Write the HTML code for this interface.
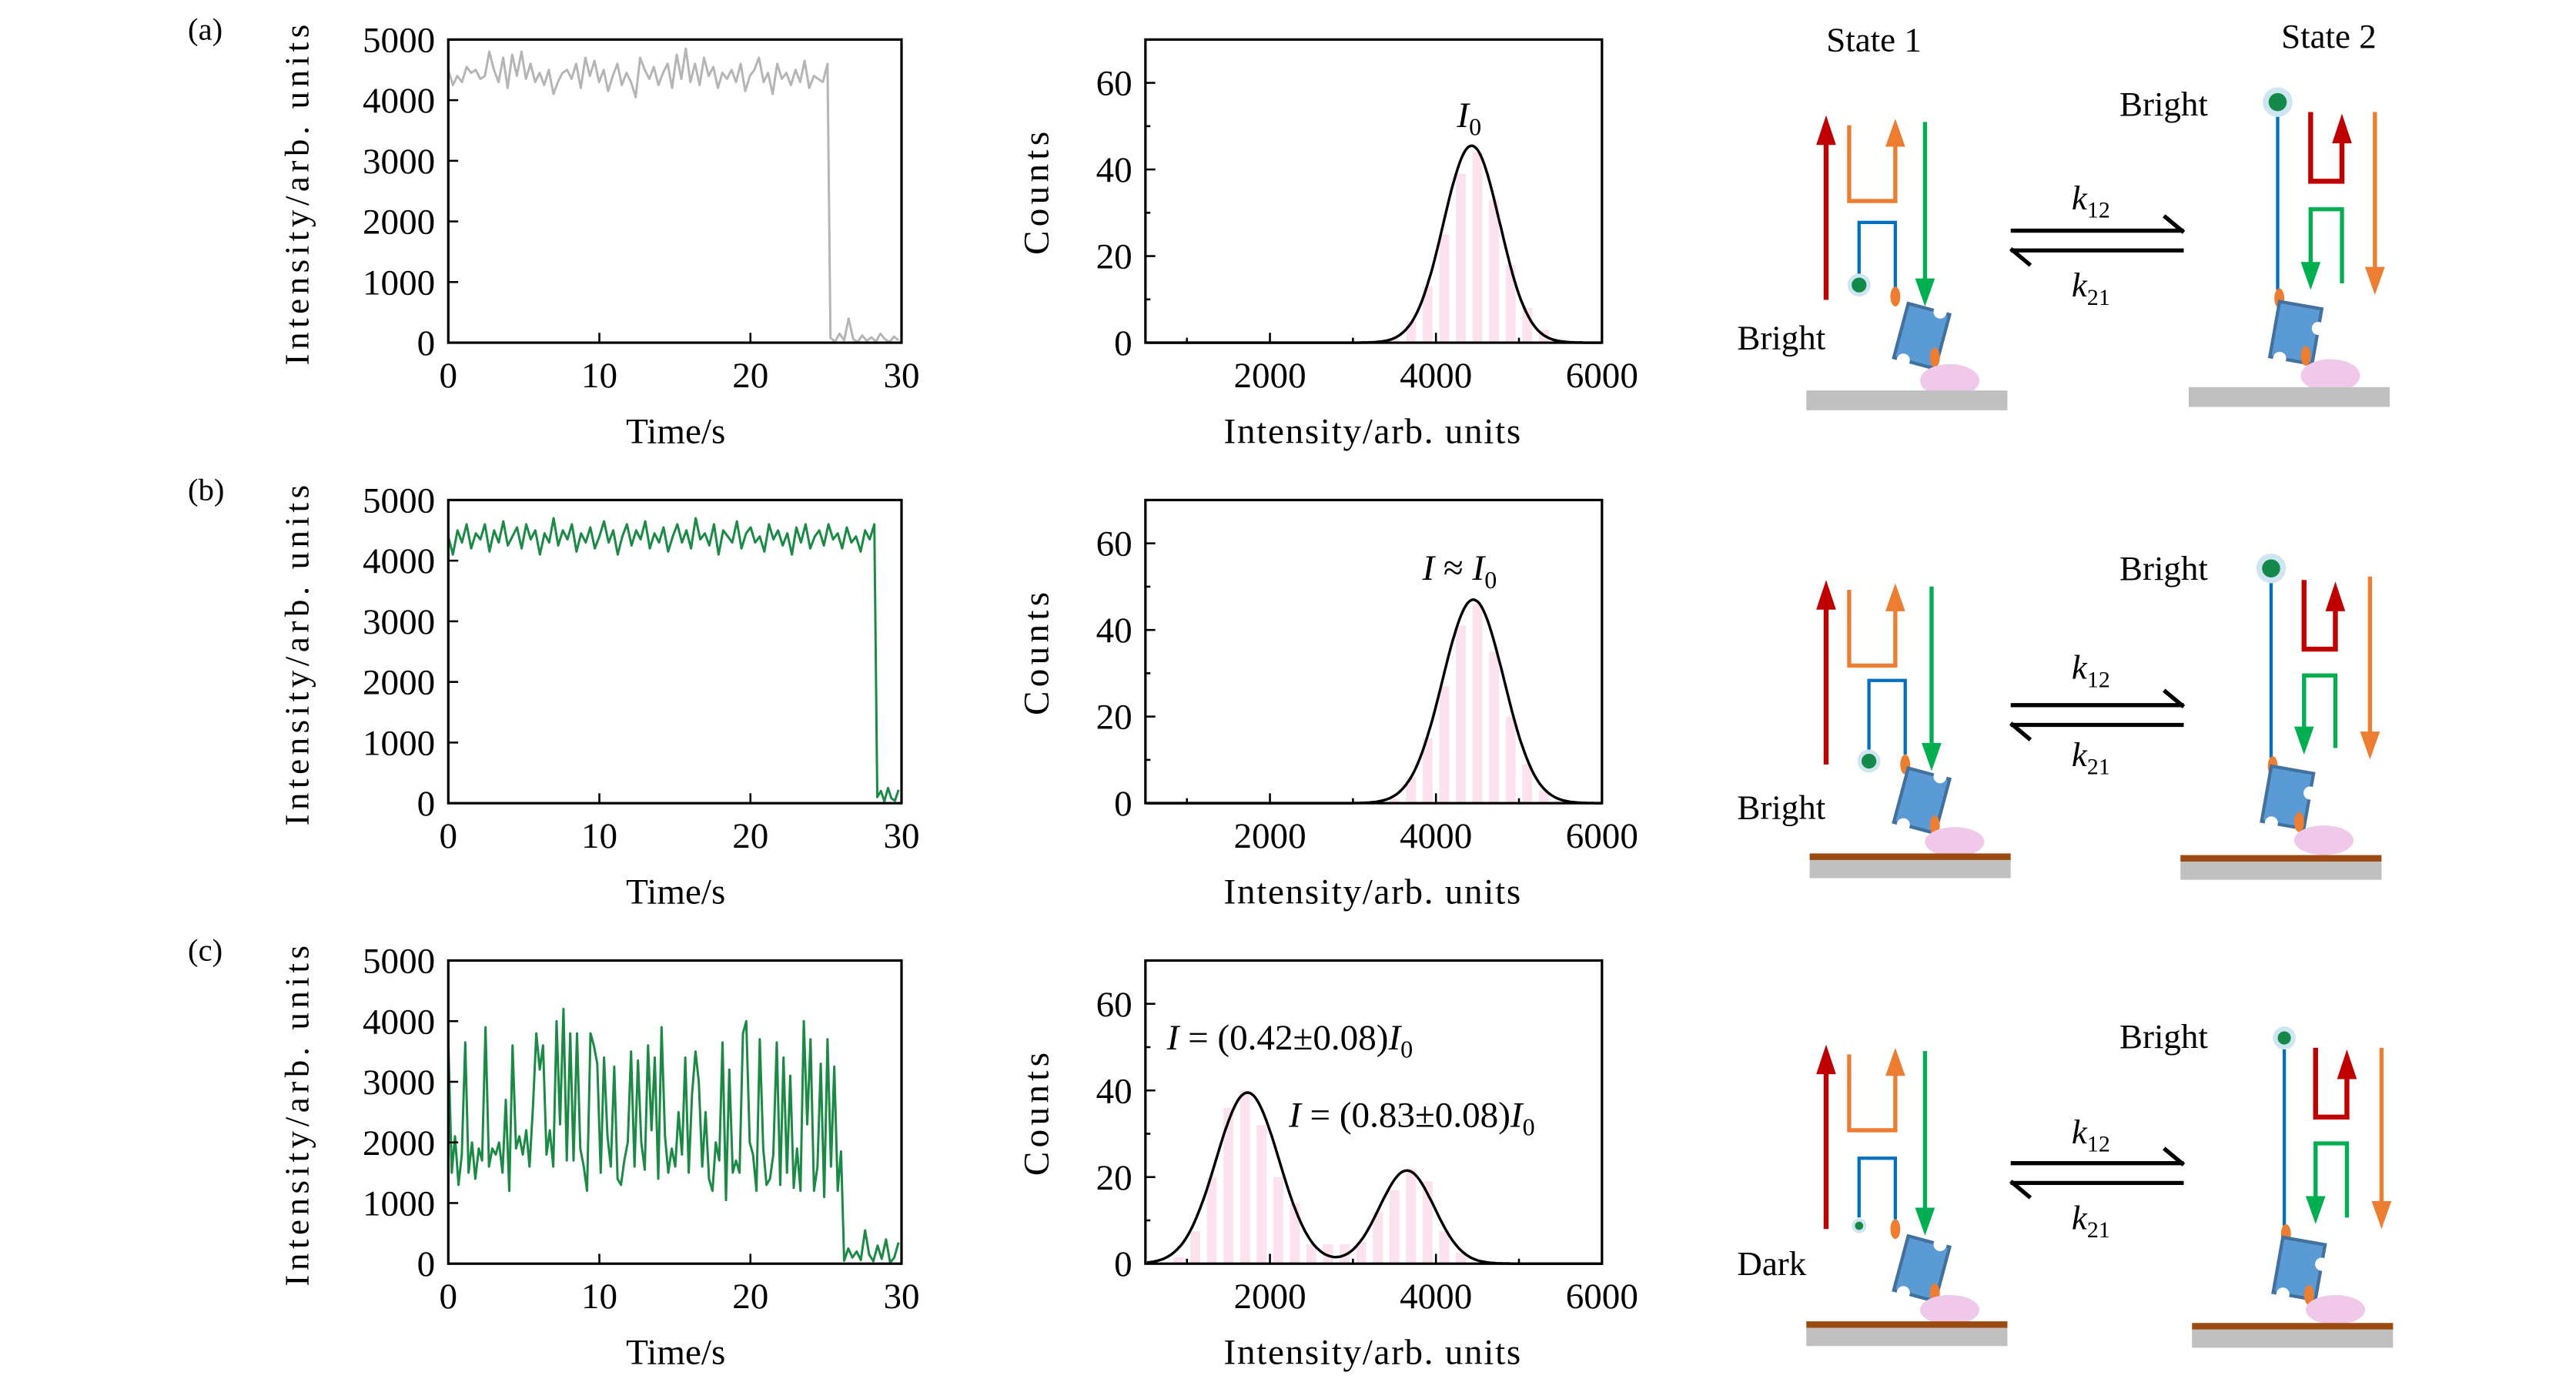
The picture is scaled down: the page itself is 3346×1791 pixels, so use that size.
<!DOCTYPE html>
<html><head><meta charset="utf-8"><style>
html,body{margin:0;padding:0;background:#fff;}
svg{display:block;font-family:"Liberation Serif",serif;}
</style></head><body>
<svg id="fig" width="3346" height="1791" viewBox="0 0 1563 837" preserveAspectRatio="none" xmlns="http://www.w3.org/2000/svg">
<g id="plots"></g>
<!-- schematic row a -->
<g transform="translate(0,0)">
<text x="1137" y="31" font-size="21" text-anchor="middle">State 1</text>
<text x="1413" y="29" font-size="21" text-anchor="middle">State 2</text>
<g>
<line x1="1108" y1="182" x2="1108" y2="86" stroke="#c00000" stroke-width="3"/><polygon points="1102,88 1114,88 1108,70" fill="#c00000"/>
<polyline points="1122,76 1122,122 1150,122 1150,88" fill="none" stroke="#ed7d31" stroke-width="2.5"/><polygon points="1144,89 1156,89 1150,72" fill="#ed7d31"/>
<line x1="1168" y1="74" x2="1168" y2="171" stroke="#00b050" stroke-width="2.5"/><polygon points="1162,169 1174,169 1168,186" fill="#00b050"/>
<polyline points="1128,167 1128,135 1150,135 1150,176" fill="none" stroke="#0070c0" stroke-width="2"/>
<circle cx="1128" cy="173" r="7" fill="#cfe6f2"/><circle cx="1128" cy="173" r="4.5" fill="#138a4a"/>
<ellipse cx="1150" cy="180" rx="3" ry="6" fill="#ed7d31"/>
<g transform="translate(1166,204) rotate(15)"><rect x="-13" y="-17" width="26" height="34" fill="#5b9bd5" stroke="#41719c" stroke-width="2"/><circle cx="7" cy="-17" r="4" fill="#fff"/><circle cx="-7" cy="17" r="4" fill="#fff"/></g>
<ellipse cx="1174" cy="217" rx="3" ry="6" fill="#ed7d31"/>
<ellipse cx="1183" cy="231" rx="18" ry="10" fill="#f0c8ea"/>
<rect x="1096" y="237" width="122" height="12" fill="#c0c0c0"/>
<text x="1054" y="212" font-size="21">Bright</text>
</g>
<g>
<line x1="1220" y1="140" x2="1325" y2="140" stroke="#000" stroke-width="2.5"/><line x1="1313" y1="131" x2="1325" y2="141" stroke="#000" stroke-width="2.5"/>
<line x1="1220" y1="152" x2="1325" y2="152" stroke="#000" stroke-width="2.5"/><line x1="1220" y1="151" x2="1232" y2="161" stroke="#000" stroke-width="2.5"/>
<text x="1257" y="127" font-size="21" font-style="italic">k<tspan font-size="14" font-style="normal" dy="5">12</tspan></text>
<text x="1257" y="180" font-size="21" font-style="italic">k<tspan font-size="14" font-style="normal" dy="5">21</tspan></text>
</g>
<g>
<text x="1286" y="70" font-size="21">Bright</text>
<line x1="1382" y1="68" x2="1382" y2="176" stroke="#0070c0" stroke-width="2"/>
<circle cx="1382" cy="62" r="9" fill="#cfe6f2"/><circle cx="1382" cy="62" r="5.5" fill="#138a4a"/>
<polyline points="1402,68 1402,110 1421,110 1421,86" fill="none" stroke="#c00000" stroke-width="3"/><polygon points="1415,87 1427,87 1421,69" fill="#c00000"/>
<polyline points="1421,172 1421,127 1402,127 1402,161" fill="none" stroke="#00b050" stroke-width="2.5"/><polygon points="1396,159 1408,159 1402,176" fill="#00b050"/>
<line x1="1441" y1="68" x2="1441" y2="164" stroke="#ed7d31" stroke-width="2.5"/><polygon points="1435,162 1447,162 1441,179" fill="#ed7d31"/>
<ellipse cx="1383" cy="181" rx="3" ry="6" fill="#ed7d31"/>
<g transform="translate(1393,202) rotate(10)"><rect x="-13" y="-17" width="26" height="34" fill="#5b9bd5" stroke="#41719c" stroke-width="2"/><circle cx="13" cy="-5" r="4" fill="#fff"/><circle cx="-7" cy="17" r="4" fill="#fff"/></g>
<ellipse cx="1399" cy="216" rx="3" ry="6" fill="#ed7d31"/>
<ellipse cx="1414" cy="228" rx="18" ry="10" fill="#f0c8ea"/>
<rect x="1328" y="235" width="122" height="12" fill="#c0c0c0"/>
</g>
</g>
<!-- schematic row b -->
<g transform="translate(0,282)">
<g>
<line x1="1108" y1="182" x2="1108" y2="86" stroke="#c00000" stroke-width="3"/><polygon points="1102,88 1114,88 1108,70" fill="#c00000"/>
<polyline points="1122,76 1122,122 1150,122 1150,88" fill="none" stroke="#ed7d31" stroke-width="2.5"/><polygon points="1144,89 1156,89 1150,72" fill="#ed7d31"/>
<line x1="1172" y1="74" x2="1172" y2="171" stroke="#00b050" stroke-width="2.5"/><polygon points="1166,169 1178,169 1172,186" fill="#00b050"/>
<polyline points="1134,173 1134,131 1156,131 1156,176" fill="none" stroke="#0070c0" stroke-width="2"/>
<circle cx="1134" cy="180" r="7" fill="#cfe6f2"/><circle cx="1134" cy="180" r="4.5" fill="#138a4a"/>
<ellipse cx="1156" cy="182" rx="3" ry="6" fill="#ed7d31"/>
<g transform="translate(1166,204) rotate(15)"><rect x="-13" y="-17" width="26" height="34" fill="#5b9bd5" stroke="#41719c" stroke-width="2"/><circle cx="7" cy="-17" r="4" fill="#fff"/><circle cx="-7" cy="17" r="4" fill="#fff"/></g>
<ellipse cx="1174" cy="219" rx="3" ry="6" fill="#ed7d31"/>
<ellipse cx="1186" cy="229" rx="18" ry="9" fill="#f0c8ea"/>
<rect x="1098" y="236" width="122" height="4" fill="#9c4a12"/>
<rect x="1098" y="240" width="122" height="11" fill="#c0c0c0"/>
<text x="1054" y="215" font-size="21">Bright</text>
</g>
<g>
<line x1="1220" y1="146" x2="1325" y2="146" stroke="#000" stroke-width="2.5"/><line x1="1313" y1="137" x2="1325" y2="147" stroke="#000" stroke-width="2.5"/>
<line x1="1220" y1="158" x2="1325" y2="158" stroke="#000" stroke-width="2.5"/><line x1="1220" y1="157" x2="1232" y2="167" stroke="#000" stroke-width="2.5"/>
<text x="1257" y="130" font-size="21" font-style="italic">k<tspan font-size="14" font-style="normal" dy="5">12</tspan></text>
<text x="1257" y="183" font-size="21" font-style="italic">k<tspan font-size="14" font-style="normal" dy="5">21</tspan></text>
</g>
<g>
<text x="1286" y="70" font-size="21">Bright</text>
<line x1="1378" y1="68" x2="1378" y2="178" stroke="#0070c0" stroke-width="2"/>
<circle cx="1378" cy="63" r="9" fill="#cfe6f2"/><circle cx="1378" cy="63" r="5.5" fill="#138a4a"/>
<polyline points="1398,70 1398,112 1417,112 1417,88" fill="none" stroke="#c00000" stroke-width="3"/><polygon points="1411,89 1423,89 1417,71" fill="#c00000"/>
<polyline points="1417,172 1417,128 1398,128 1398,161" fill="none" stroke="#00b050" stroke-width="2.5"/><polygon points="1392,159 1404,159 1398,176" fill="#00b050"/>
<line x1="1438" y1="68" x2="1438" y2="164" stroke="#ed7d31" stroke-width="2.5"/><polygon points="1432,162 1444,162 1438,179" fill="#ed7d31"/>
<ellipse cx="1379" cy="183" rx="3" ry="6" fill="#ed7d31"/>
<g transform="translate(1388,202) rotate(10)"><rect x="-13" y="-17" width="26" height="34" fill="#5b9bd5" stroke="#41719c" stroke-width="2"/><circle cx="13" cy="-5" r="4" fill="#fff"/><circle cx="-7" cy="17" r="4" fill="#fff"/></g>
<ellipse cx="1395" cy="217" rx="3" ry="6" fill="#ed7d31"/>
<ellipse cx="1410" cy="228" rx="18" ry="9" fill="#f0c8ea"/>
<rect x="1323" y="237" width="122" height="4" fill="#9c4a12"/>
<rect x="1323" y="241" width="122" height="11" fill="#c0c0c0"/>
</g>
</g>
<!-- schematic row c -->
<g transform="translate(0,564)">
<g>
<line x1="1108" y1="182" x2="1108" y2="86" stroke="#c00000" stroke-width="3"/><polygon points="1102,88 1114,88 1108,70" fill="#c00000"/>
<polyline points="1122,76 1122,122 1150,122 1150,88" fill="none" stroke="#ed7d31" stroke-width="2.5"/><polygon points="1144,89 1156,89 1150,72" fill="#ed7d31"/>
<line x1="1168" y1="74" x2="1168" y2="171" stroke="#00b050" stroke-width="2.5"/><polygon points="1162,169 1174,169 1168,186" fill="#00b050"/>
<polyline points="1128,175 1128,139 1150,139 1150,176" fill="none" stroke="#0070c0" stroke-width="2"/>
<circle cx="1128" cy="180" r="4.5" fill="#cfe6f2"/><circle cx="1128" cy="180" r="2.5" fill="#138a4a"/>
<ellipse cx="1150" cy="182" rx="3" ry="6" fill="#ed7d31"/>
<g transform="translate(1166,206) rotate(15)"><rect x="-13" y="-17" width="26" height="34" fill="#5b9bd5" stroke="#41719c" stroke-width="2"/><circle cx="7" cy="-17" r="4" fill="#fff"/><circle cx="-7" cy="17" r="4" fill="#fff"/></g>
<ellipse cx="1174" cy="221" rx="3" ry="6" fill="#ed7d31"/>
<ellipse cx="1183" cy="231" rx="18" ry="9" fill="#f0c8ea"/>
<rect x="1096" y="238" width="122" height="4" fill="#9c4a12"/>
<rect x="1096" y="242" width="122" height="11" fill="#c0c0c0"/>
<text x="1054" y="210" font-size="21">Dark</text>
</g>
<g>
<line x1="1220" y1="142" x2="1325" y2="142" stroke="#000" stroke-width="2.5"/><line x1="1313" y1="133" x2="1325" y2="143" stroke="#000" stroke-width="2.5"/>
<line x1="1220" y1="154" x2="1325" y2="154" stroke="#000" stroke-width="2.5"/><line x1="1220" y1="153" x2="1232" y2="163" stroke="#000" stroke-width="2.5"/>
<text x="1257" y="130" font-size="21" font-style="italic">k<tspan font-size="14" font-style="normal" dy="5">12</tspan></text>
<text x="1257" y="182" font-size="21" font-style="italic">k<tspan font-size="14" font-style="normal" dy="5">21</tspan></text>
</g>
<g>
<text x="1286" y="72" font-size="21">Bright</text>
<line x1="1386" y1="70" x2="1386" y2="180" stroke="#0070c0" stroke-width="2"/>
<circle cx="1386" cy="66" r="7" fill="#cfe6f2"/><circle cx="1386" cy="66" r="4" fill="#138a4a"/>
<polyline points="1405,72 1405,114 1424,114 1424,90" fill="none" stroke="#c00000" stroke-width="3"/><polygon points="1418,91 1430,91 1424,73" fill="#c00000"/>
<polyline points="1424,175 1424,130 1405,130 1405,164" fill="none" stroke="#00b050" stroke-width="2.5"/><polygon points="1399,162 1411,162 1405,179" fill="#00b050"/>
<line x1="1445" y1="72" x2="1445" y2="167" stroke="#ed7d31" stroke-width="2.5"/><polygon points="1439,165 1451,165 1445,182" fill="#ed7d31"/>
<ellipse cx="1387" cy="185" rx="3" ry="6" fill="#ed7d31"/>
<g transform="translate(1395,206) rotate(10)"><rect x="-13" y="-17" width="26" height="34" fill="#5b9bd5" stroke="#41719c" stroke-width="2"/><circle cx="13" cy="-5" r="4" fill="#fff"/><circle cx="-7" cy="17" r="4" fill="#fff"/></g>
<ellipse cx="1401" cy="222" rx="3" ry="6" fill="#ed7d31"/>
<ellipse cx="1417" cy="231" rx="18" ry="9" fill="#f0c8ea"/>
<rect x="1330" y="239" width="122" height="4" fill="#9c4a12"/>
<rect x="1330" y="243" width="122" height="11" fill="#c0c0c0"/>
</g>
</g>
</svg>
<script>
// ---- data ----
const timeTicks = [0, 10, 20, 30];
const intensityTicks = [0, 1000, 2000, 3000, 4000, 5000];
const histXTicks = [2000, 4000, 6000];
const histYTicks = [0, 20, 40, 60];

const aHigh = [4500,4250,4400,4300,4550,4450,4500,4350,4400,4800,4500,4300,4700,4200,4750,4400,4800,4350,4600,4300,4450,4250,4500,4100,4300,4450,4500,4350,4600,4200,4700,4400,4650,4300,4500,4150,4400,4600,4250,4450,4300,4050,4700,4500,4350,4550,4250,4450,4600,4200,4750,4350,4850,4300,4600,4250,4700,4400,4550,4200,4450,4350,4500,4300,4600,4150,4400,4500,4700,4300,4450,4100,4600,4350,4450,4250,4500,4300,4650,4200,4400,4350,4300,4600];
const aLow = [80,20,150,40,400,60,10,120,30,90,20,150,60,10,100,40];
const aDrop = 25.1;

const bHigh = [4400,4100,4500,4300,4600,4200,4450,4350,4600,4150,4500,4300,4650,4250,4400,4550,4200,4600,4350,4500,4100,4450,4300,4700,4250,4500,4350,4600,4150,4450,4300,4550,4200,4400,4650,4300,4500,4100,4400,4600,4250,4500,4350,4650,4200,4450,4300,4550,4150,4400,4600,4300,4500,4200,4700,4350,4450,4250,4600,4100,4500,4400,4300,4650,4200,4450,4550,4300,4400,4150,4600,4350,4500,4250,4450,4100,4550,4300,4600,4200,4400,4500,4250,4600,4350,4450,4200,4550,4300,4400,4150,4500,4350,4600];
const bLow = [100,200,30,250,80,40,220];
const bDrop = 28.2;

const cHigh = [3700,1500,2100,1300,1800,3650,1500,2000,1400,1900,1700,3900,1600,1900,1800,2000,1500,2700,1200,3600,1900,2100,1800,2200,1600,2600,3800,3200,3600,1800,2200,1600,4000,2300,4200,1700,3800,1700,3800,1900,1600,1200,3800,3600,3300,1500,3400,2100,1600,3250,1400,1300,1700,2000,3500,1600,3350,2000,1550,3600,2200,3400,1400,3900,2100,1500,1900,1600,2500,1800,3400,1500,2800,3500,3000,1600,2500,1400,1200,2000,1700,3650,1050,3200,1500,1700,1500,3800,4000,2000,1800,1200,3700,1900,1300,1400,1800,3650,1300,3400,1500,3100,1250,1900,1200,4000,2300,3700,1200,1600,3300,1100,3700,1600,3250,1200,1850];
const cLow = [50,250,100,200,60,550,150,40,300,80,400,20,100,350];
const cDrop = 26;

const histBinCenters = [700,900,1100,1300,1500,1700,1900,2100,2300,2500,2700,2900,3100,3300,3500,3700,3900,4100,4300,4500,4700,4900,5100,5300,5500];
const aCounts = [0,0,0,0,0,0,0,0,0,0,0,0,0,0,1,5,13,25,39,44,33,18,8,3,1];
const bCounts = [0,0,0,0,0,0,0,0,0,0,0,0,0,0,1,6,15,27,41,46,35,20,9,3,1];
const cCounts = [0,1.5,7.5,20,36,40,32,20,14,4.5,4.5,4.5,5,12,17,22,19,7.5,2.5,0,0,0,0,0,0];
const aFit = [[45.5,4430,340]];
const bFit = [[47,4450,370]];
const cFit = [[39.5,1730,380],[21.5,3650,330]];

const NS = "http://www.w3.org/2000/svg";
const root = document.getElementById('plots');
function mk(tag, attrs, parent) {
  const e = document.createElementNS(NS, tag);
  for (const k in attrs) e.setAttribute(k, attrs[k]);
  (parent || root).appendChild(e);
  return e;
}
function label(parent, x, y, txt, size, anchor, extra) {
  const t = mk('text', Object.assign({x: x, y: y, 'font-size': size, 'text-anchor': anchor}, extra || {}), parent);
  t.textContent = txt;
  return t;
}

const rowOff = [0, 279.5, 559];
const rowNames = ['a', 'b', 'c'];
const TX0 = 272, TX1 = 547, HX0 = 695, HX1 = 972, YT = 24, YB = 208;

function timePlot(r, high, low, drop, color) {
  const off = rowOff[r];
  const g = mk('g', {});
  
  
  const xs = t => TX0 + (t / 30) * (TX1 - TX0);
  const ys = v => off + YB - (v / 5000) * (YB - YT);
  const pts = [];
  high.forEach((v, i) => pts.push([xs(i * drop / (high.length - 1)), ys(v)]));
  low.forEach((v, i) => pts.push([xs(drop + 0.2 + i * (29.8 - drop - 0.2) / (low.length - 1)), ys(v)]));
  const line = mk('polyline', {points: pts.map(p => p[0].toFixed(1) + ',' + p[1].toFixed(1)).join(' '), fill: 'none', stroke: color, 'stroke-width': 1.4, 'stroke-linejoin': 'round'}, g);
  
  
  const fr = mk('rect', {x: TX0, y: off + YT, width: TX1 - TX0, height: YB - YT, fill: 'none', stroke: '#000', 'stroke-width': 1.5}, g);
  
  
  intensityTicks.forEach(v => {
    mk('line', {x1: TX0, x2: TX0 + 6, y1: ys(v), y2: ys(v), stroke: '#000', 'stroke-width': 1.2}, g);
    const t = label(g, TX0 - 8, ys(v) + 7.5, String(v), 22, 'end');
    
    
  });
  timeTicks.forEach(v => {
    mk('line', {x1: xs(v), x2: xs(v), y1: off + YB, y2: off + YB - 6, stroke: '#000', 'stroke-width': 1.2}, g);
    const t = label(g, xs(v), off + YB + 27, String(v), 22, 'middle');
    
    
  });
  const xt = label(g, 410, off + 269, 'Time/s', 22, 'middle');
  
  
  const yt = label(g, 0, 0, 'Intensity/arb. units', 21, 'middle', {transform: 'translate(187,' + (off + 117) + ') rotate(-90)', 'letter-spacing': '2.6'});
  
  
  const pl = label(g, 114, off + 24, '(' + rowNames[r] + ')', 19, 'start');
  
  
}

function histPlot(r, counts, fit) {
  const off = rowOff[r];
  const g = mk('g', {});
  
  
  const xs = v => HX0 + (v - 500) / 5500 * (HX1 - HX0);
  const ys = c => off + YB - c / 70 * (YB - YT);
  histBinCenters.forEach((c, i) => {
    if (counts[i] <= 0) return;
    const b = mk('rect', {x: xs(c - 60), y: ys(counts[i]), width: xs(c + 60) - xs(c - 60), height: ys(0) - ys(counts[i]), fill: '#fbe2ee'}, g);
    
    
  });
  const pts = [];
  for (let v = 520; v <= 6000; v += 20) {
    let s = 0;
    fit.forEach(f => { s += f[0] * Math.exp(-0.5 * Math.pow((v - f[1]) / f[2], 2)); });
    pts.push(xs(v).toFixed(1) + ',' + ys(s).toFixed(1));
  }
  const fl = mk('polyline', {points: pts.join(' '), fill: 'none', stroke: '#000', 'stroke-width': 1.6}, g);
  
  
  const fr = mk('rect', {x: HX0, y: off + YT, width: HX1 - HX0, height: YB - YT, fill: 'none', stroke: '#000', 'stroke-width': 1.5}, g);
  
  
  for (let c = 0; c <= 60; c += 10) {
    mk('line', {x1: HX0, x2: HX0 + (c % 20 === 0 ? 6 : 3), y1: ys(c), y2: ys(c), stroke: '#000', 'stroke-width': 1.2}, g);
  }
  histYTicks.forEach(c => {
    const t = label(g, HX0 - 8, ys(c) + 7.5, String(c), 22, 'end');
    
    
  });
  for (let v = 1000; v <= 5000; v += 1000) {
    mk('line', {x1: xs(v), x2: xs(v), y1: off + YB, y2: off + YB - (v % 2000 === 0 ? 6 : 3), stroke: '#000', 'stroke-width': 1.2}, g);
  }
  histXTicks.forEach(v => {
    const t = label(g, xs(v), off + YB + 27, String(v), 22, 'middle');
    
    
  });
  const xt = label(g, 833, off + 269, 'Intensity/arb. units', 22, 'middle', {'letter-spacing': '0.8'});
  
  
  const yt = label(g, 0, 0, 'Counts', 22, 'middle', {transform: 'translate(636,' + (off + 116) + ') rotate(-90)', 'letter-spacing': '2.5'});
  
  
  return g;
}

timePlot(0, aHigh, aLow, aDrop, '#b5b5b5');
timePlot(1, bHigh, bLow, bDrop, '#1a8a45');
timePlot(2, cHigh, cLow, cDrop, '#1a8a45');
const ga = histPlot(0, aCounts, aFit);
const gb = histPlot(1, bCounts, bFit);
const gc = histPlot(2, cCounts, cFit);

function annot(g, x, y, html, name) {
  const t = mk('text', {x: x, y: y, 'font-size': 22}, g);
  t.innerHTML = html;
  
  
}
annot(ga, 884, 77, '<tspan font-style="italic">I</tspan><tspan font-size="15" dy="5">0</tspan>', 'peak-annotation');
annot(gb, 863, 352, '<tspan font-style="italic">I</tspan> ≈ <tspan font-style="italic">I</tspan><tspan font-size="15" dy="5">0</tspan>', 'peak-annotation');
annot(gc, 708, 637, '<tspan font-style="italic">I</tspan> = (0.42±0.08)<tspan font-style="italic">I</tspan><tspan font-size="15" dy="5">0</tspan>', 'peak-1-annotation');
annot(gc, 782, 684, '<tspan font-style="italic">I</tspan> = (0.83±0.08)<tspan font-style="italic">I</tspan><tspan font-size="15" dy="5">0</tspan>', 'peak-2-annotation');
</script>
</body></html>
